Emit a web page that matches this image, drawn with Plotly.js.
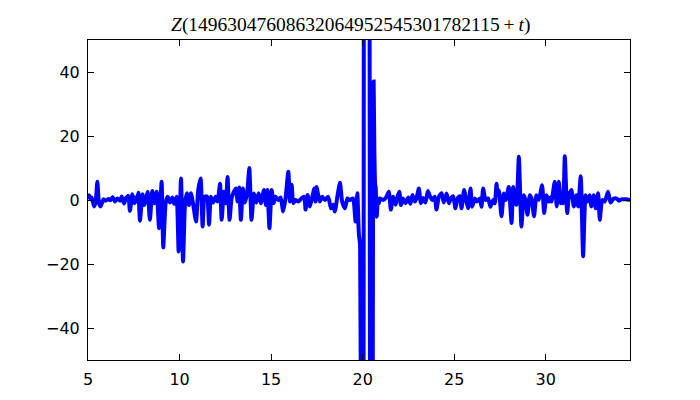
<!DOCTYPE html>
<html><head><meta charset="utf-8">
<script src="https://cdn.plot.ly/plotly-3.0.1.min.js"></script>
<style>body{margin:0;background:#fff}</style>
</head><body><div id="chart" style="width:700px;height:400px"></div>
<script>
const titleText = "<i>Z</i>(14963047608632064952545301782115\u2009+\u2009<i>t</i>)";
const xTicks = [5, 10, 15, 20, 25, 30];
const yTicks = [-40, -20, 0, 20, 40];
const t = [5.00,5.06,5.14,5.20,5.33,5.42,5.51,5.60,5.69,5.84,5.96,6.11,6.22,6.35,6.47,6.60,6.75,6.84,6.97,7.06,
7.20,7.29,7.42,7.53,7.60,7.67,7.75,7.84,7.97,8.08,8.17,8.26,8.38,8.51,8.62,8.75,8.88,9.02,9.11,9.24,
9.35,9.48,9.60,9.71,9.84,9.95,10.08,10.19,10.30,10.40,10.51,10.62,10.75,10.90,11.02,11.15,11.26,11.37,11.50,11.61,
11.71,11.84,11.97,12.08,12.21,12.30,12.42,12.53,12.62,12.73,12.84,12.97,13.08,13.17,13.26,13.35,13.46,13.57,13.70,13.81,
13.93,14.06,14.19,14.32,14.44,14.61,14.72,14.80,14.91,15.03,15.14,15.24,15.39,15.52,15.66,15.79,15.94,16.03,16.12,16.21,
16.34,16.48,16.66,16.81,16.88,16.99,17.12,17.25,17.36,17.43,17.48,17.66,17.79,17.94,18.12,18.27,18.39,18.48,18.63,18.76,
18.88,19.03,19.17,19.30,19.48,19.61,19.71,19.79,19.86,19.92,19.97,20.02,20.05,20.08,20.13,20.20,20.30,20.36,20.41,20.45,20.49,
20.53,20.57,20.60,20.64,20.68,20.71,20.77,20.83,20.89,20.95,21.12,21.30,21.43,21.54,21.67,21.80,21.90,22.00,22.09,22.21,
22.34,22.49,22.61,22.72,22.85,22.94,23.07,23.18,23.31,23.43,23.56,23.69,23.81,23.94,24.03,24.16,24.31,24.43,24.58,24.71,
24.82,24.94,25.07,25.18,25.31,25.40,25.54,25.67,25.76,25.89,25.98,26.13,26.25,26.40,26.49,26.58,26.71,26.85,26.98,27.13,
27.22,27.31,27.37,27.44,27.58,27.71,27.82,27.98,28.13,28.22,28.31,28.40,28.53,28.67,28.80,28.89,29.00,29.13,29.22,29.36,
29.49,29.62,29.80,29.91,30.04,30.16,30.24,30.31,30.49,30.60,30.71,30.82,30.88,30.95,31.04,31.17,31.27,31.40,31.53,31.67,
31.77,31.91,32.04,32.17,32.28,32.40,32.49,32.62,32.73,32.86,32.95,33.08,33.22,33.40,33.53,33.68,33.86,34.00,34.13,34.40,34.60];
const z = [0.3,1.5,0.2,0.8,-2.0,-0.5,5.7,-1.0,-2.0,0.2,-0.2,0.3,-0.1,0.9,-0.5,0.5,-0.2,1.1,-1.1,0.5,
1.3,-3.4,1.8,-1.0,0.8,-0.5,2.3,-6.5,1.8,-1.6,0.5,2.6,-6.2,2.8,-1.0,2.6,-8.8,5.7,-14.8,-1.0,
1.0,-0.8,0.8,-1.2,1.0,-16.1,6.7,-19.2,-1.0,2.1,-1.6,2.1,-1.6,-6.7,3.1,6.7,-8.3,1.0,1.1,-7.7,
1.0,-0.8,1.0,-0.5,5.1,-6.2,2.6,-1.0,7.2,-6.2,0.5,2.6,3.6,-0.5,3.9,-6.2,3.6,-0.8,2.6,10.0,
-6.2,2.0,-0.8,2.1,-1.0,3.1,-1.6,3.1,-8.8,3.1,-1.0,1.0,0.0,0.8,-3.6,0.6,8.8,-0.5,4.8,-1.0,
0.0,-0.5,0.5,1.0,-3.0,1.6,-2.0,1.0,3.6,-0.5,4.1,-0.5,1.0,0.0,1.0,-2.6,-1.5,-3.6,1.5,5.4,
-0.5,-2.6,0.5,0.0,0.5,-6.7,2.1,-10.4,-14,-120,-330,-300,-60,200,380,420,300,160,-120,-300,-300,
-140,8,37,15,5,4,-5.2,0.5,-1.0,0.5,0.0,1.0,2.6,-3.0,1.0,-1.5,1.0,2.6,-1.6,0.5,
-1.0,0.8,-1.2,1.6,-0.5,0.5,3.6,-1.0,0.6,-0.8,2.8,1.0,0.0,1.0,-3.0,1.0,2.1,-0.8,2.0,-1.0,
0.5,1.2,-2.6,0.5,1.2,-2.6,3.1,-0.5,-2.6,3.6,-2.1,0.5,-0.5,0.5,-2.1,3.6,0.0,0.5,-2.1,0.0,
-1.0,5.1,2.0,3.0,-5.1,2.0,0.0,4.1,-7.2,4.1,-0.5,-1.5,13.5,-8.3,1.5,0.0,-4.6,1.5,0.5,-5.1,
1.5,0.0,4.6,-4.1,1.5,-0.5,0.8,-0.5,5.7,-2.0,5.7,-1.0,0.3,-1.0,13.7,-4.1,1.5,3.1,-2.0,1.5,
-2.0,7.4,-17.6,1.5,-0.5,1.5,-2.0,1.5,-2.6,2.1,-6.2,0.0,-0.5,2.6,-0.8,0.3,0.5,-0.2,0.2,0.2,0.0];

const axisCommon = {
  showline: true, linecolor: '#000', linewidth: 1, mirror: 'ticks',
  ticks: 'inside', ticklen: 6, tickwidth: 1, tickcolor: '#000',
  showgrid: false, zeroline: false,
  tickfont: {family: 'DejaVu Sans', size: 16, color: '#000'}
};
const data = [{
  x: t, y: z, type: 'scatter', mode: 'lines',
  line: {color: '#0000ff', width: 4, shape: 'spline', smoothing: 0.5},
  hoverinfo: 'skip'
}];
const layout = {
  width: 700, height: 400,
  margin: {l: 87.5, r: 70, t: 40, b: 40, pad: 0},
  paper_bgcolor: '#fff', plot_bgcolor: '#fff',
  showlegend: false,
  title: {text: titleText, x: 0.501, xanchor: 'center', y: 0.94, yanchor: 'middle',
          font: {family: 'Liberation Serif', size: 19.5, color: '#000'}},
  xaxis: Object.assign({}, axisCommon, {range: [5, 34.6], tickvals: xTicks, ticklabelstandoff: 5}),
  yaxis: Object.assign({}, axisCommon, {range: [-50, 50], tickvals: yTicks, ticklabelstandoff: 4})
};
Plotly.newPlot('chart', data, layout, {displayModeBar: false, staticPlot: true});
</script></body></html>
